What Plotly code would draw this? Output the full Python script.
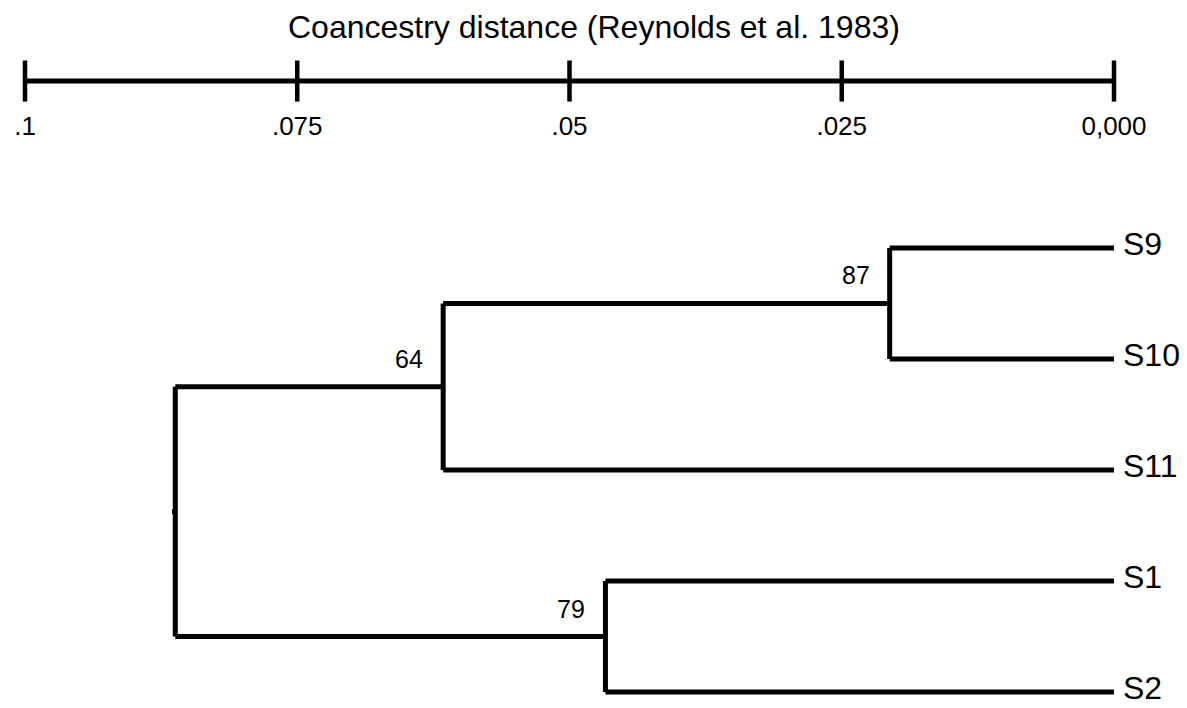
import plotly.graph_objects as go

# ---- data ----
leaves = ["S9", "S10", "S11", "S1", "S2"]
# internal nodes: name, children, height (coancestry distance), bootstrap support
node_names = ["n87", "n64", "n79", "root"]
node_children = [["S9", "S10"], ["n87", "S11"], ["S1", "S2"], ["n64", "n79"]]
node_heights = [0.0206, 0.0616, 0.0467, 0.0862]
node_support = [87, 64, 79, None]
root_stub = 0.0003

scale_ticks = [0.1, 0.075, 0.05, 0.025, 0.0]
scale_tick_labels = [".1", ".075", ".05", ".025", "0,000"]
scale_title = "Coancestry distance (Reynolds et al. 1983)"

FONT = "Liberation Sans, Arial, sans-serif"

# ---- tree layout ----
pos_y = {name: i for i, name in enumerate(leaves)}
pos_x = {name: 0.0 for name in leaves}
for name, ch, h in zip(node_names, node_children, node_heights):
    pos_y[name] = sum(pos_y[c] for c in ch) / len(ch)
    pos_x[name] = h

xs, ys = [], []
for name, ch, h in zip(node_names, node_children, node_heights):
    cy = [pos_y[c] for c in ch]
    xs += [h, h, None]
    ys += [min(cy), max(cy), None]
    for c in ch:
        xs += [pos_x[c], h, None]
        ys += [pos_y[c], pos_y[c], None]
# root stub
xs += [pos_x["root"], pos_x["root"] + root_stub, None]
ys += [pos_y["root"], pos_y["root"], None]

fig = go.Figure()
fig.add_trace(go.Scatter(x=xs, y=ys, mode="lines",
                         line=dict(color="black", width=5),
                         hoverinfo="skip"))

# ---- scale bar ----
bar_y = -1.504
tick_half = 0.185
label_y = -1.072
title_y = -1.991

fig.add_trace(go.Scatter(x=[max(scale_ticks), min(scale_ticks)], y=[bar_y, bar_y],
                         mode="lines", line=dict(color="black", width=5),
                         hoverinfo="skip"))
tx, ty = [], []
for t in scale_ticks:
    tx += [t, t, None]
    ty += [bar_y - tick_half, bar_y + tick_half, None]
fig.add_trace(go.Scatter(x=tx, y=ty, mode="lines",
                         line=dict(color="black", width=4.5),
                         hoverinfo="skip"))
fig.add_trace(go.Scatter(x=scale_ticks, y=[label_y] * len(scale_ticks),
                         mode="text", text=scale_tick_labels,
                         textposition="middle center",
                         textfont=dict(family=FONT, size=26, color="black"),
                         hoverinfo="skip"))

annotations = []
# leaf labels
for name in leaves:
    annotations.append(dict(x=pos_x[name], y=pos_y[name], text=name,
                            xref="x", yref="y", showarrow=False,
                            xanchor="left", yanchor="middle", xshift=7, yshift=4,
                            font=dict(family=FONT, size=32, color="black")))
# bootstrap labels
for name, s in zip(node_names, node_support):
    if s is None:
        continue
    annotations.append(dict(x=pos_x[name], y=pos_y[name], text=str(s),
                            xref="x", yref="y", showarrow=False,
                            xanchor="center", yanchor="middle", xshift=-34, yshift=28,
                            font=dict(family=FONT, size=25, color="black")))
# scale title
annotations.append(dict(x=0.5, y=title_y, xref="paper", yref="y", text=scale_title,
                        showarrow=False, xanchor="center", yanchor="middle",
                        font=dict(family=FONT, size=32, color="black")))

fig.update_layout(
    width=1187, height=708,
    margin=dict(l=0, r=0, t=0, b=0),
    paper_bgcolor="white", plot_bgcolor="white",
    showlegend=False, hovermode=False,
    annotations=annotations,
    xaxis=dict(range=[0.102296, -0.006703], visible=False, fixedrange=True),
    yaxis=dict(range=[4.144, -2.234], visible=False, fixedrange=True),
)

fig.write_html("out.html", config={"displayModeBar": False})
